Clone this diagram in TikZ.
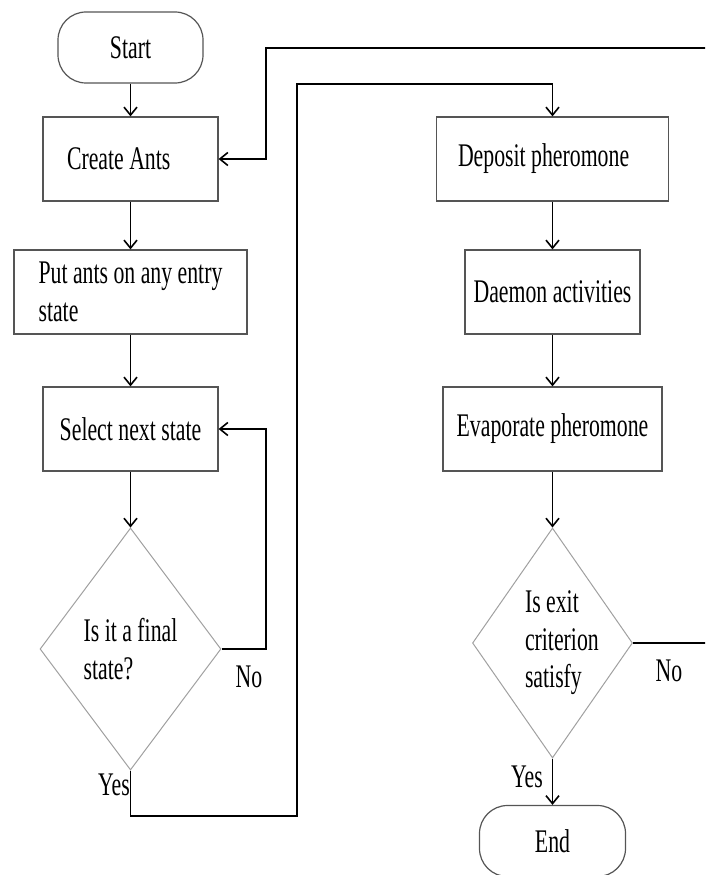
\documentclass[tikz,border=0pt]{standalone}
\usepackage{fontspec}
\setmainfont[FakeStretch=0.66]{Liberation Serif}
\usepackage{tikz}
\usetikzlibrary{arrows.meta,shapes.geometric}
\definecolor{edge}{HTML}{555555}
\definecolor{rhomb}{HTML}{A0A0A0}
\tikzset{
  lab/.style={font=\fontsize{33}{37.5}\selectfont, inner sep=0pt},
  box/.style={rectangle, draw=edge, line width=1.2pt, lab, align=center},
  term/.style={box, rounded corners=28pt},
  decision/.style={diamond, shape aspect=0.7, draw=rhomb, line width=1pt, lab, align=left},
  flow/.style={line width=1.6pt, draw=black},
  arr/.style={flow, -{Straight Barb[length=8pt,width=13pt]}}
}

\begin{document}
\begin{tikzpicture}[x=1pt,y=-1pt]
\clip[use as bounding box] (0,0) rectangle (705,875);

% left column
\node[term, minimum width=145pt, minimum height=71pt] (start) at (130.5,47.5) {Start};
\node[box, minimum width=175pt, minimum height=84pt, text width=127pt, align=flush left] (create) at (130.5,159) {Create Ants};
\node[box, minimum width=233pt, minimum height=84pt, align=left] (put) at (130.5,292) {Put ants on any entry\\state};
\node[box, minimum width=175pt, minimum height=84pt] (sel) at (130.5,429) {Select next state};
\node[decision, minimum width=181pt, minimum height=242pt] (dec1) at (130.5,649) {Is it a final\\state?};

% right column
\node[box, minimum width=232pt, minimum height=84pt, text width=189pt, align=flush left] (dep) at (552.5,159) {Deposit pheromone};
\node[box, minimum width=175pt, minimum height=84pt] (dae) at (552.5,292) {Daemon activities};
\node[box, minimum width=219pt, minimum height=84pt] (eva) at (552.5,429) {Evaporate pheromone};
\node[decision, minimum width=160pt, minimum height=230pt, text width=55pt, align=flush left] (dec2) at (552.5,643) {Is~exit\\criterion\\satisfy};
\node[term, minimum width=146pt, minimum height=71pt] (fin) at (552.5,841) {End};

% branch labels
\node[lab] (no1) at (249,677) {No};
\node[lab] (yes1) at (114,785) {Yes};
\node[lab] (no2) at (669,671) {No};
\node[lab] (yes2) at (527,777) {Yes};

% corners of the long connectors
\coordinate (loop1) at (266,540);
\coordinate (yesA) at (297,816);
\coordinate (yesB) at (297,84);
\coordinate (backA) at (708,48);
\coordinate (backB) at (266,48);

\draw[arr] (start) -- (create);
\draw[arr] (create) -- (put);
\draw[arr] (put) -- (sel);
\draw[arr] (sel) -- (dec1);
\draw[arr] (dec1.east) -| (loop1) |- (sel.east);
\draw[arr] (dec1.south) |- (yesA) -- (yesB) -| (dep.north);
\draw[arr] (dep) -- (dae);
\draw[arr] (dae) -- (eva);
\draw[arr] (eva) -- (dec2);
\draw[arr] (dec2.east) -| (backA) -- (backB) |- (create.east);
\draw[arr] (dec2) -- (fin);
\end{tikzpicture}
\end{document}
